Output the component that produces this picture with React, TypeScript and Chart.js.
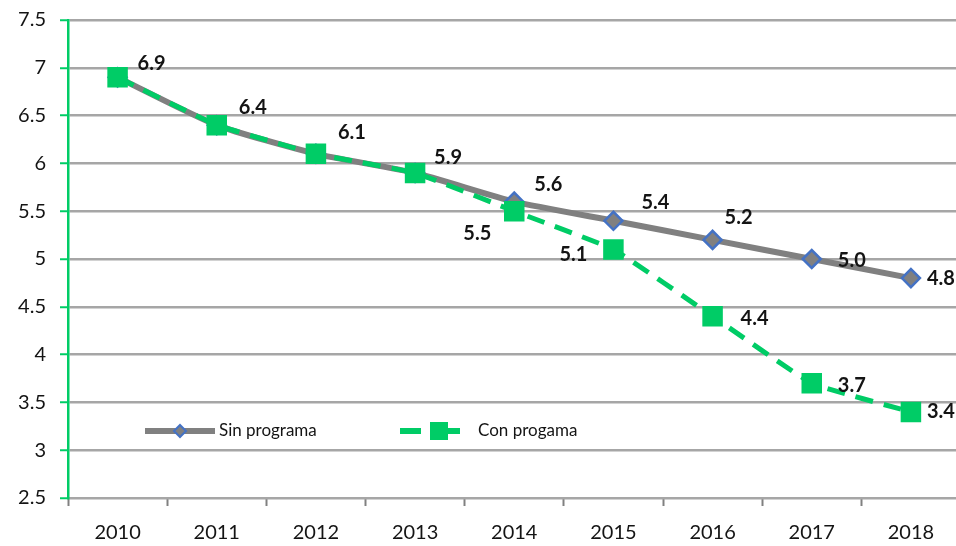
import React, { useEffect, useRef } from 'react';
import { Chart, registerables } from 'chart.js';

Chart.register(...registerables);

const years = ['2010', '2011', '2012', '2013', '2014', '2015', '2016', '2017', '2018'];
const sinPrograma = [6.9, 6.4, 6.1, 5.9, 5.6, 5.4, 5.2, 5.0, 4.8];
const conProgama = [6.9, 6.4, 6.1, 5.9, 5.5, 5.1, 4.4, 3.7, 3.4];
const yMin = 2.5;
const yMax = 7.5;
const yStep = 0.5;

// label placement (style): offsets of the label centre from the point, null = no label
const sinLabelOffsets: ([number, number] | null)[] = [
  [34, -14], [36, -18], [36, -21], [33, -15], [34, -17], [42, -18], [26, -22], [40, 2], [30, 0],
];
const conLabelOffsets: ([number, number] | null)[] = [
  null, null, null, null, [-37, 22], [-40, 5], [42, 2], [40, 2], [30, 0],
];

const GREEN = '#00CC66';
const GRAY = '#808080';
const BLUE = '#4472C4';
const GRID = '#A6A6A6';
const TEXT = '#141414';
const FONT = 'Lato, "Open Sans", sans-serif';

const labelPlugin = {
  id: 'pointValueLabels',
  afterDatasetsDraw(chart: any) {
    const ctx = chart.ctx;
    ctx.save();
    ctx.font = `bold 20px ${FONT}`;
    ctx.fillStyle = TEXT;
    ctx.textAlign = 'center';
    ctx.textBaseline = 'middle';
    const sets = [sinLabelOffsets, conLabelOffsets];
    chart.data.datasets.forEach((ds: any, di: number) => {
      const meta = chart.getDatasetMeta(di);
      const offs = sets[di];
      meta.data.forEach((pt: any, i: number) => {
        const o = offs[i];
        if (!o) return;
        const v = ds.data[i] as number;
        ctx.fillText(v.toFixed(1), pt.x + o[0], pt.y + o[1]);
      });
    });
    ctx.restore();
  },
};

const legendPlugin = {
  id: 'innerLegend',
  afterDatasetsDraw(chart: any) {
    const ctx = chart.ctx;
    const a = chart.chartArea;
    const y = a.top + 411;
    ctx.save();
    // Sin programa
    ctx.strokeStyle = GRAY;
    ctx.lineWidth = 6;
    ctx.lineCap = 'butt';
    ctx.beginPath();
    ctx.moveTo(a.left + 77, y);
    ctx.lineTo(a.left + 147, y);
    ctx.stroke();
    const dx = a.left + 112;
    ctx.beginPath();
    ctx.moveTo(dx - 6, y);
    ctx.lineTo(dx, y - 6);
    ctx.lineTo(dx + 6, y);
    ctx.lineTo(dx, y + 6);
    ctx.closePath();
    ctx.fillStyle = GRAY;
    ctx.fill();
    ctx.strokeStyle = BLUE;
    ctx.lineWidth = 2;
    ctx.stroke();
    ctx.font = `17px ${FONT}`;
    ctx.fillStyle = TEXT;
    ctx.textAlign = 'left';
    ctx.textBaseline = 'middle';
    ctx.fillText('Sin programa', a.left + 151, y);
    // Con progama
    ctx.strokeStyle = GREEN;
    ctx.lineWidth = 6;
    ctx.beginPath();
    ctx.moveTo(a.left + 332, y);
    ctx.lineTo(a.left + 353, y);
    ctx.moveTo(a.left + 372, y);
    ctx.lineTo(a.left + 392, y);
    ctx.stroke();
    ctx.fillStyle = GREEN;
    ctx.fillRect(a.left + 362, y - 9, 18, 18);
    ctx.fillStyle = TEXT;
    ctx.fillText('Con progama', a.left + 410, y);
    ctx.restore();
  },
};

export default function App() {
  const ref = useRef<HTMLCanvasElement | null>(null);

  useEffect(() => {
    if (!ref.current) return;
    const chart = new Chart(ref.current, {
      type: 'line',
      data: {
        labels: years,
        datasets: [
          {
            label: 'Sin programa',
            data: sinPrograma,
            borderColor: GRAY,
            borderWidth: 6,
            backgroundColor: GRAY,
            pointStyle: 'rectRot',
            pointRadius: 9,
            pointBorderColor: BLUE,
            pointBackgroundColor: GRAY,
            pointBorderWidth: 2.5,
            tension: 0.2,
            order: 1,
          },
          {
            label: 'Con progama',
            data: conProgama,
            borderColor: GREEN,
            borderWidth: 5,
            borderDash: [18, 11],
            backgroundColor: GREEN,
            pointStyle: 'rect',
            pointRadius: 14.5,
            pointBorderWidth: 0,
            pointBackgroundColor: GREEN,
            pointBorderColor: GREEN,
            tension: 0.1,
            order: 0,
          },
        ],
      },
      options: {
        responsive: false,
        animation: false,
        events: [],
        layout: { padding: { top: 14, left: 0, right: 0, bottom: 0 } },
        plugins: {
          legend: { display: false },
          tooltip: { enabled: false },
          title: { display: false },
        },
        scales: {
          x: {
            type: 'category',
            offset: true,
            grid: {
              offset: true,
              drawOnChartArea: false,
              drawTicks: true,
              tickLength: 8,
              tickColor: GRAY,
              tickWidth: 2,
            },
            border: { color: GRID, width: 2 },
            ticks: {
              color: TEXT,
              font: { family: FONT, size: 20 },
              padding: 15,
              maxRotation: 0,
            },
            afterFit(scale: any) {
              scale.height = 48;
            },
          },
          y: {
            min: yMin,
            max: yMax,
            ticks: {
              stepSize: yStep,
              color: TEXT,
              font: { family: FONT, size: 20 },
              padding: 14,
              callback: (v: any) => String(Number(v)),
            },
            grid: {
              color: GRID,
              lineWidth: 2.5,
              drawTicks: true,
              tickLength: 8,
              tickColor: GREEN,
              tickWidth: 2,
            },
            border: { color: GREEN, width: 2.5 },
            afterFit(scale: any) {
              scale.width = 68;
            },
          },
        },
      },
      plugins: [labelPlugin, legendPlugin],
    });
    return () => chart.destroy();
  }, []);

  return (
    <div
      style={{
        position: 'fixed',
        left: 0,
        top: 0,
        width: 956,
        height: 546,
        overflow: 'hidden',
        background: '#ffffff',
      }}
    >
      <canvas
        ref={ref}
        width={975}
        height={552}
        style={{ position: 'absolute', left: 0, top: -6, width: 975, height: 552, display: 'block' }}
      />
    </div>
  );
}
